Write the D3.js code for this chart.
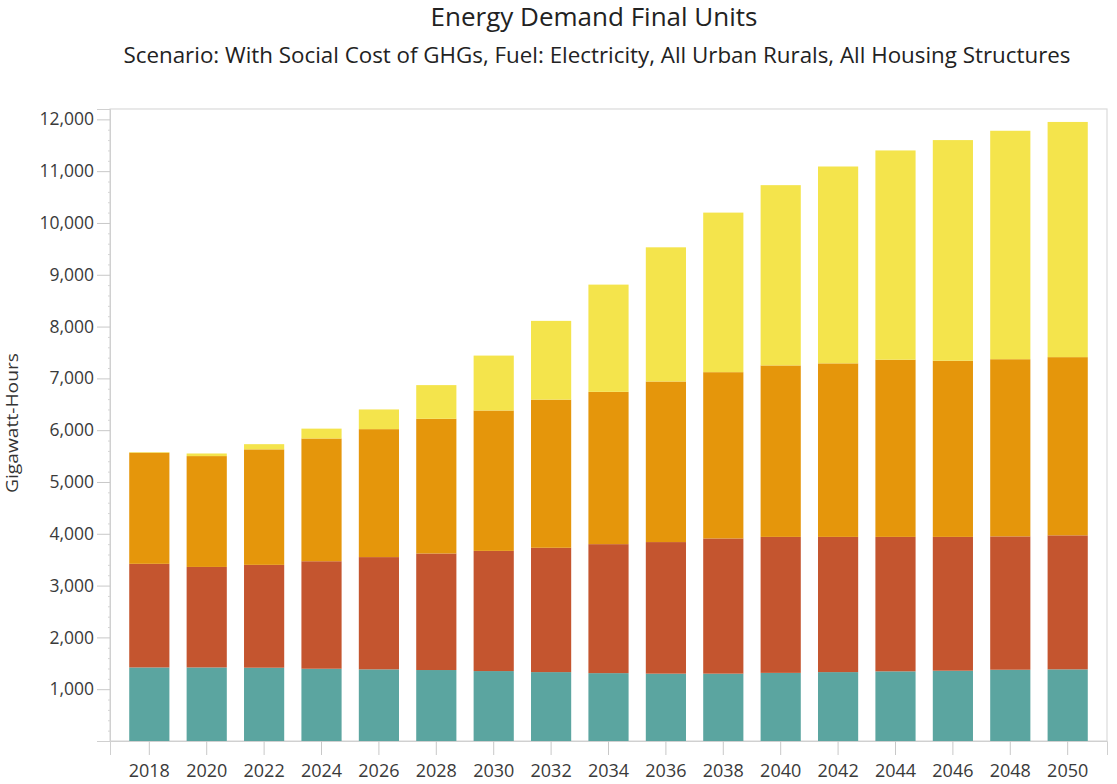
<!DOCTYPE html>
<html>
<head>
<meta charset="utf-8">
<script src="https://cdn.jsdelivr.net/npm/d3@7"></script>
<style>
  html, body { margin: 0; padding: 0; background: #fff; }
  svg { display: block; font-family: "Open Sans", "Noto Sans", sans-serif; }
</style>
</head>
<body>
<svg id="chart" width="1117" height="784"></svg>
<script>
// ---- Data ----
const years = ["2018","2020","2022","2024","2026","2028","2030","2032","2034","2036","2038","2040","2042","2044","2046","2048","2050"];
const seriesNames = ["Series A", "Series B", "Series C", "Series D"];
const seriesA = [1420,1420,1415,1395,1383,1370,1350,1330,1310,1300,1300,1315,1330,1345,1357,1376,1383];
const seriesB = [2000,1940,1985,2075,2167,2250,2320,2400,2490,2540,2610,2625,2610,2595,2583,2574,2587];
const seriesC = [2146,2140,2230,2370,2470,2600,2710,2860,2940,3100,3210,3310,3350,3420,3400,3420,3440];
const seriesD = [10,50,100,190,380,650,1060,1520,2070,2590,3080,3480,3800,4040,4260,4410,4540];
const colors = ["#5ba5a0", "#c4552f", "#e5960b", "#f4e44c"];
const yTicks = [1000,2000,3000,4000,5000,6000,7000,8000,9000,10000,11000,12000];
const titleText = "Energy Demand Final Units";
const subtitleText = "Scenario: With Social Cost of GHGs, Fuel: Electricity, All Urban Rurals, All Housing Structures";
const yLabel = "Gigawatt-Hours";

// ---- Layout ----
const svg = d3.select("#chart");
const mLeft = 110, mRight = 1107, mTop = 109, mBottom = 741;

const rows = years.map((yr, i) => ({
  year: yr,
  "Series A": seriesA[i], "Series B": seriesB[i], "Series C": seriesC[i], "Series D": seriesD[i]
}));
const stacked = d3.stack().keys(seriesNames)(rows);

const x = d3.scaleBand().domain(years).range([mLeft, mRight]).paddingInner(0.3).paddingOuter(0.335);
const y = d3.scaleLinear().domain([0, 12200]).range([mBottom, mTop]);

// Frame
svg.append("rect")
  .attr("x", mLeft).attr("y", mTop)
  .attr("width", mRight - mLeft).attr("height", mBottom - mTop)
  .attr("fill", "none").attr("stroke", "#dadada").attr("stroke-width", 1.2);

// Bars
svg.append("g").selectAll("g")
  .data(stacked).join("g")
  .attr("fill", (d, i) => colors[i])
  .selectAll("rect")
  .data(d => d).join("rect")
  .attr("x", d => x(d.data.year))
  .attr("width", x.bandwidth())
  .attr("y", d => y(d[1]))
  .attr("height", d => Math.max(0, y(d[0]) - y(d[1])));

// Y minor ticks
const minor = d3.range(200, 12200, 200).filter(v => v % 1000 !== 0);
svg.append("g").selectAll("line").data(minor).join("line")
  .attr("x1", mLeft - 2).attr("x2", mLeft + 1)
  .attr("y1", d => y(d) + 0.5).attr("y2", d => y(d) + 0.5)
  .attr("stroke", "#d5d5d5");

// Y axis
const yAxis = svg.append("g")
  .attr("transform", `translate(${mLeft},0)`)
  .call(d3.axisLeft(y).tickValues(yTicks).tickFormat(d3.format(",")).tickSize(13).tickPadding(3));
yAxis.select(".domain").attr("stroke", "#d0d0d0");
yAxis.selectAll(".tick line").attr("stroke", "#c8c8c8");
yAxis.selectAll(".tick text")
  .attr("fill", "#3a3a3a").style("font-size", "17.5px")
  .style("font-family", "'Open Sans', 'Noto Sans', sans-serif");

// X axis
const xAxis = svg.append("g")
  .attr("transform", `translate(0,${mBottom})`)
  .call(d3.axisBottom(x).tickSize(14).tickPadding(9));
xAxis.select(".domain").attr("stroke", "#d0d0d0");
xAxis.selectAll(".tick line").attr("stroke", "#c8c8c8");
xAxis.selectAll(".tick text")
  .attr("fill", "#3a3a3a").style("font-size", "18px")
  .style("font-family", "'Open Sans', 'Noto Sans', sans-serif");

// Titles
svg.append("text")
  .attr("x", 594).attr("y", 26)
  .attr("text-anchor", "middle")
  .attr("fill", "#222")
  .style("font-size", "25.5px")
  .attr("textLength", 327)
  .attr("lengthAdjust", "spacingAndGlyphs")
  .text(titleText);

svg.append("text")
  .attr("x", 597).attr("y", 63)
  .attr("text-anchor", "middle")
  .attr("fill", "#222")
  .style("font-size", "22px")
  .attr("textLength", 947)
  .attr("lengthAdjust", "spacingAndGlyphs")
  .text(subtitleText);

// Y label
svg.append("text")
  .attr("transform", "translate(18,423) rotate(-90)")
  .attr("text-anchor", "middle")
  .attr("fill", "#333")
  .style("font-size", "15.5px")
  .attr("textLength", 140)
  .attr("lengthAdjust", "spacingAndGlyphs")
  .text(yLabel);
</script>
</body>
</html>
